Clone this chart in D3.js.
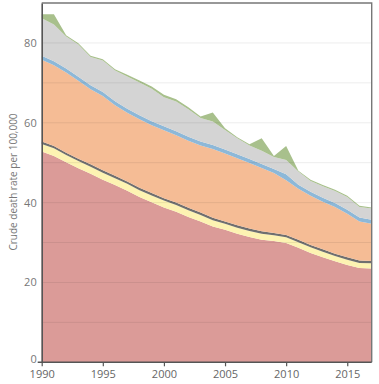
<!DOCTYPE html>
<html><head><meta charset="utf-8">
<script src="https://cdn.jsdelivr.net/npm/d3@7"></script>
<style>body{margin:0;background:#fff;}svg{display:block;}</style>
</head><body>
<svg id="chart" width="379" height="384"></svg>
<script>
const years = [1990,1991,1992,1993,1994,1995,1996,1997,1998,1999,2000,2001,2002,2003,2004,2005,2006,2007,2008,2009,2010,2011,2012,2013,2014,2015,2016,2017];
const red    = [52.8,51.7,50.1,48.6,47.2,45.7,44.4,43.0,41.4,40.1,38.8,37.7,36.4,35.3,34.0,33.2,32.2,31.4,30.7,30.4,29.9,28.7,27.4,26.3,25.3,24.4,23.6,23.5];
const yellow = [1.9,1.9,1.8,1.8,1.8,1.8,1.7,1.7,1.7,1.7,1.7,1.7,1.7,1.6,1.6,1.5,1.5,1.5,1.5,1.4,1.4,1.4,1.4,1.4,1.3,1.3,1.3,1.3];
const darkgray = [0.6,0.6,0.6,0.6,0.6,0.6,0.6,0.6,0.6,0.6,0.6,0.6,0.6,0.6,0.6,0.6,0.6,0.6,0.6,0.6,0.6,0.6,0.6,0.6,0.6,0.6,0.6,0.6];
const orange = [20.5,20.2,20.1,19.5,18.8,18.6,17.7,17.2,17.2,17.0,17.0,16.9,16.8,16.8,17.2,17.0,16.8,16.4,15.9,15.0,13.7,12.8,12.3,11.9,11.7,10.9,9.8,9.3];
const blue   = [1,1,1,1,1,1,1,1,1,1,1,1,1,1,1,1,1,1,1,1,1.5,1,1,1,1,1,1,1];
const gray   = [9.4,9.2,8.0,8.1,7.1,7.9,7.7,8.1,8.2,8.1,7.3,7.4,6.9,5.9,5.9,4.9,4.0,3.4,3.3,3.0,3.6,3.3,2.7,2.9,3.0,3.2,2.6,2.8];
const green  = [1.0,2.6,0.3,0.3,0.3,0.3,0.3,0.4,0.5,0.6,0.6,0.6,0.5,0.4,2.3,0.4,0.3,0.3,3.1,0.3,3.5,0.2,0.3,0.3,0.3,0.3,0.3,0.3];
const xTicks = [1990,1995,2000,2005,2010,2015];
const yTicks = [0,20,40,60,80];
const yTitle = "Crude death rate per 100,000";

const keys = ["red","yellow","darkgray","orange","blue","gray","green"];
const series = {red,yellow,darkgray,orange,blue,gray,green};
const colors = {red:"#db9b98",yellow:"#fdf3b2",darkgray:"#6f6f6f",orange:"#f5bc95",blue:"#8db8d8",gray:"#d4d4d4",green:"#a8c08c"};

const table = years.map((y,i)=>{const o={year:y}; keys.forEach(k=>o[k]=series[k][i]); return o;});

const m = {left:41.7, right:7.3, top:3, bottom:21.7};
const W = 379, H = 384;
const svg = d3.select("#chart");
const x = d3.scaleLinear().domain([1990,2017]).range([m.left, W-m.right]);
const y = d3.scaleLinear().domain([0,90]).range([H-m.bottom, m.top]);

const stacked = d3.stack().keys(keys)(table);
const area = d3.area().x(d=>x(d.data.year)).y0(d=>y(d[0])).y1(d=>y(d[1]));

svg.append("g").selectAll("path").data(stacked).join("path")
  .attr("d", area).attr("fill", d=>colors[d.key]);

// gridlines
const grid = d3.range(10,90,10);
svg.append("g").selectAll("line").data(grid).join("line")
  .attr("x1", m.left).attr("x2", W-m.right)
  .attr("y1", d=>y(d)).attr("y2", d=>y(d))
  .attr("stroke","rgba(0,0,0,0.075)").attr("stroke-width",1);

// frame
svg.append("path")
  .attr("d", `M${x(1990)},${y(90)}H${x(2017)}V${y(0)}`)
  .attr("fill","none").attr("stroke","#777").attr("stroke-width",1.4);

// x axis
const xa = svg.append("g").attr("transform",`translate(0,${y(0)})`)
  .call(d3.axisBottom(x).tickValues(xTicks).tickFormat(d3.format("d")).tickSize(4).tickPadding(4));
xa.select(".domain").attr("stroke","#555").attr("stroke-width",1.6).attr("d",`M${m.left-4},0H${W-m.right}`);
xa.selectAll(".tick line").attr("stroke","#555").attr("stroke-width",1.2);
xa.selectAll("text").attr("fill","#666").style("font-family","'Open Sans', sans-serif").style("font-size","11px");

// y axis
const ya = svg.append("g").attr("transform",`translate(${m.left},0)`)
  .call(d3.axisLeft(y).tickValues(yTicks).tickSize(0).tickPadding(5));
ya.select(".domain").attr("stroke","#555").attr("stroke-width",1.6);
ya.selectAll("text").attr("fill","#777").style("font-family","'Open Sans', sans-serif").style("font-size","11px");
ya.selectAll(".tick").filter(d=>d===0).select("text").attr("dy","0.05em");

svg.append("text")
  .attr("transform",`translate(14,182) rotate(-90)`)
  .attr("text-anchor","middle").attr("dominant-baseline","middle")
  .attr("fill","#777").style("font-family","'Open Sans', sans-serif").style("font-size","10px")
  .text(yTitle);
</script>
</body></html>
